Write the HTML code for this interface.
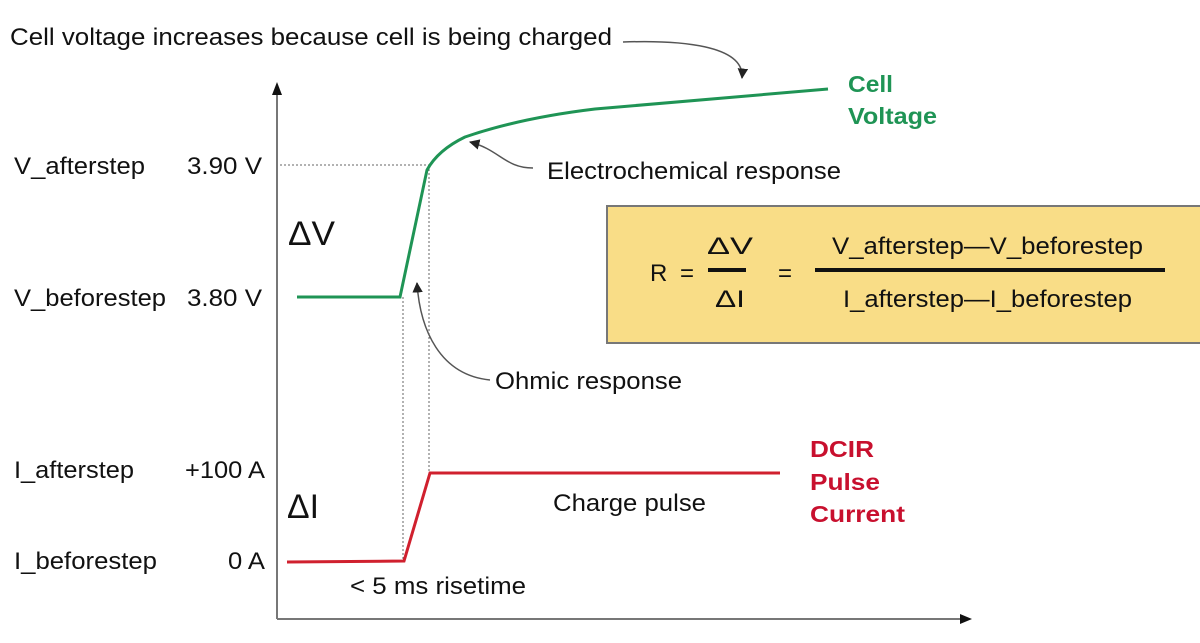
<!DOCTYPE html>
<html><head><meta charset="utf-8"><style>
body{margin:0;background:#fff;}
svg{display:block;font-family:"Liberation Sans",Arial,sans-serif;}
</style></head><body>
<svg width="1200" height="643" viewBox="0 0 1200 643" xmlns="http://www.w3.org/2000/svg">
<defs>
<marker id="ah" viewBox="0 0 10 10" refX="9" refY="5" markerWidth="7" markerHeight="7" orient="auto-start-reverse"><path d="M0,0 L10,5 L0,10 z" fill="#222"/></marker>
</defs>
<line x1="277" y1="619" x2="277" y2="92" stroke="#777" stroke-width="2"/>
<path d="M272,95 L277,82 L282,95 z" fill="#111"/>
<line x1="277" y1="619" x2="962" y2="619" stroke="#777" stroke-width="2"/>
<path d="M960,614 L972,619 L960,624 z" fill="#111"/>
<line x1="280" y1="165" x2="429" y2="165" stroke="#666" stroke-width="1" stroke-dasharray="2,2"/>
<line x1="429" y1="165" x2="429" y2="472" stroke="#666" stroke-width="1" stroke-dasharray="2,2"/>
<line x1="403" y1="297" x2="403" y2="560" stroke="#666" stroke-width="1" stroke-dasharray="2,2"/>
<path d="M297,297 L400,297 L427,170 Q438,150 465,137 Q520,118 595,109 L828,89" fill="none" stroke="#1f9455" stroke-width="3"/>
<path d="M287,562 L404,561 L430,473 L780,473" fill="none" stroke="#d0202e" stroke-width="3"/>
<rect x="607" y="206" width="600" height="137" fill="#f9dd87" stroke="#777" stroke-width="2"/>
<path d="M623,42 C680,40 745,45 742,78" fill="none" stroke="#555" stroke-width="1.5" marker-end="url(#ah)"/>
<path d="M533,168 C505,168 500,150 470,142" fill="none" stroke="#555" stroke-width="1.5" marker-end="url(#ah)"/>
<path d="M490,380 C440,375 420,330 417,283" fill="none" stroke="#555" stroke-width="1.5" marker-end="url(#ah)"/>
<g font-size="24" fill="#111" lengthAdjust="spacingAndGlyphs">
<text x="10" y="45" textLength="602" lengthAdjust="spacingAndGlyphs">Cell voltage increases because cell is being charged</text>
<text x="14" y="174" textLength="131" lengthAdjust="spacingAndGlyphs">V_afterstep</text>
<text x="187" y="174" textLength="75" lengthAdjust="spacingAndGlyphs">3.90 V</text>
<text x="14" y="306" textLength="152" lengthAdjust="spacingAndGlyphs">V_beforestep</text>
<text x="187" y="306" textLength="75" lengthAdjust="spacingAndGlyphs">3.80 V</text>
<text x="14" y="478" textLength="120" lengthAdjust="spacingAndGlyphs">I_afterstep</text>
<text x="185" y="478" textLength="80" lengthAdjust="spacingAndGlyphs">+100 A</text>
<text x="14" y="569" textLength="143" lengthAdjust="spacingAndGlyphs">I_beforestep</text>
<text x="228" y="569" textLength="37" lengthAdjust="spacingAndGlyphs">0 A</text>
<text x="547" y="179" textLength="294" lengthAdjust="spacingAndGlyphs">Electrochemical response</text>
<text x="495" y="389" textLength="187" lengthAdjust="spacingAndGlyphs">Ohmic response</text>
<text x="553" y="511" textLength="153" lengthAdjust="spacingAndGlyphs">Charge pulse</text>
<text x="350" y="594" textLength="176" lengthAdjust="spacingAndGlyphs">&lt; 5 ms risetime</text>
<text x="650" y="281">R</text>
<text x="680" y="281">=</text>
<text x="707" y="254" textLength="46" lengthAdjust="spacingAndGlyphs">ΔV</text>
<text x="715" y="307" textLength="30" lengthAdjust="spacingAndGlyphs">ΔI</text>
<text x="778" y="281">=</text>
<text x="832" y="254" textLength="311" lengthAdjust="spacingAndGlyphs">V_afterstep—V_beforestep</text>
<text x="843" y="307" textLength="289" lengthAdjust="spacingAndGlyphs">I_afterstep—I_beforestep</text>
</g>
<rect x="708" y="268" width="38" height="4" fill="#111"/>
<rect x="815" y="268" width="350" height="4" fill="#111"/>
<text x="288" y="245" font-size="34" fill="#111" textLength="47" lengthAdjust="spacingAndGlyphs">ΔV</text>
<text x="287" y="518" font-size="34" fill="#111" textLength="32" lengthAdjust="spacingAndGlyphs">ΔI</text>
<g font-size="23" font-weight="bold" fill="#1f9455">
<text x="848" y="92" textLength="45" lengthAdjust="spacingAndGlyphs">Cell</text>
<text x="848" y="124" textLength="89" lengthAdjust="spacingAndGlyphs">Voltage</text>
</g>
<g font-size="23" font-weight="bold" fill="#c8102e">
<text x="810" y="457" textLength="64" lengthAdjust="spacingAndGlyphs">DCIR</text>
<text x="810" y="490" textLength="70" lengthAdjust="spacingAndGlyphs">Pulse</text>
<text x="810" y="522" textLength="95" lengthAdjust="spacingAndGlyphs">Current</text>
</g>
</svg>
</body></html>
